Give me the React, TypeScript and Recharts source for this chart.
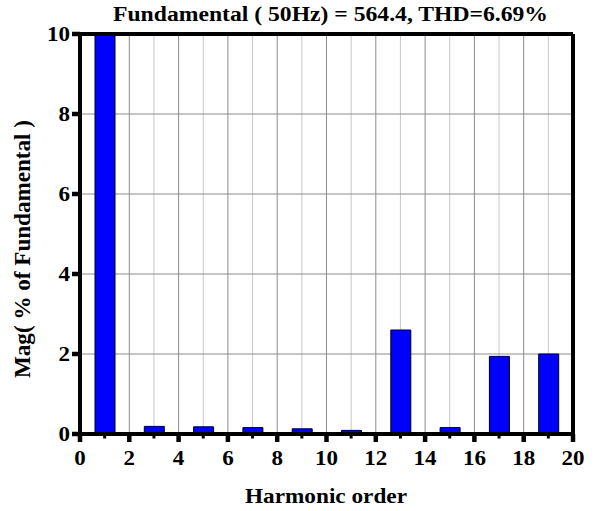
import React from 'react';
import { BarChart, Bar, XAxis, YAxis, CartesianGrid, ReferenceLine } from 'recharts';

const harmonics = [1, 3, 5, 7, 9, 11, 13, 15, 17, 19];
const magnitudes = [10, 0.19, 0.18, 0.16, 0.13, 0.09, 2.6, 0.16, 1.94, 2.0];
const xTicks = [0, 1, 2, 3, 4, 5, 6, 7, 8, 9, 10, 11, 12, 13, 14, 15, 16, 17, 18, 19, 20];
const yTicks = [0, 2, 4, 6, 8, 10];
const oddGrid = [1, 3, 5, 7, 9, 11, 13, 15, 17, 19];
const evenGrid = [2, 4, 6, 8, 10, 12, 14, 16, 18];
const xDomain = [0, 20];
const yDomain = [0, 10];
const title = 'Fundamental ( 50Hz) = 564.4, THD=6.69%';
const xTitle = 'Harmonic order';
const yTitle = 'Mag( % of Fundamental )';

const data = harmonics.map((h, i) => ({ h, mag: magnitudes[i] }));

const FONT = '"Liberation Serif", "Times New Roman", serif';

const gridGen = (values: number[]) => ({ xAxis, offset }: any) => {
  if (xAxis && typeof xAxis.scale === 'function') return values.map((v) => xAxis.scale(v));
  return values.map((v) => offset.left + ((v - xDomain[0]) / (xDomain[1] - xDomain[0])) * offset.width);
};

const XTick = (props: any) => {
  const { x, y, payload } = props;
  const v = payload.value;
  if (v % 2 === 0) {
    const s = String(v);
    return (
      <g>
        <line x1={x} x2={x} y1={y} y2={y + 8} stroke="#000" strokeWidth={4.5} />
        <text
          x={x}
          y={y + 31}
          textAnchor="middle"
          fontFamily={FONT}
          fontWeight="bold"
          fontSize={20}
          fill="#000"
          textLength={s.length * 11.5}
          lengthAdjust="spacingAndGlyphs"
        >
          {s}
        </text>
      </g>
    );
  }
  return <line x1={x} x2={x} y1={y} y2={y + 4.5} stroke="#000" strokeWidth={3} />;
};

const YTick = (props: any) => {
  const { x, y, payload } = props;
  const s = String(payload.value);
  return (
    <text
      x={x}
      y={y + 7}
      textAnchor="end"
      fontFamily={FONT}
      fontWeight="bold"
      fontSize={20}
      fill="#000"
      textLength={s.length * 11.5}
      lengthAdjust="spacingAndGlyphs"
    >
      {s}
    </text>
  );
};

export default function App() {
  return (
    <div style={{ position: 'absolute', left: 0, top: 0, width: 595, height: 511, background: '#fff' }}>
      <BarChart
        width={595}
        height={511}
        data={data}
        margin={{ top: 34, right: 22, bottom: 47, left: 0 }}
      >
        <CartesianGrid
          horizontal={false}
          vertical={true}
          stroke="#c8c8c8"
          strokeWidth={1}
          verticalCoordinatesGenerator={gridGen(oddGrid)}
        />
        <CartesianGrid
          horizontal={true}
          vertical={true}
          stroke="#8c8c8c"
          strokeWidth={1}
          verticalCoordinatesGenerator={gridGen(evenGrid)}
        />
        <XAxis
          dataKey="h"
          type="number"
          domain={xDomain}
          ticks={xTicks}
          interval={0}
          height={30}
          tickSize={0}
          tickMargin={0}
          tickLine={false}
          tick={<XTick />}
          axisLine={{ stroke: '#000', strokeWidth: 4 }}
          allowDataOverflow
        />
        <YAxis
          type="number"
          domain={yDomain}
          ticks={yTicks}
          width={80}
          tickSize={8}
          tickMargin={2}
          tickLine={{ stroke: '#000', strokeWidth: 4.5 }}
          axisLine={{ stroke: '#000', strokeWidth: 4 }}
          tick={<YTick />}
          allowDataOverflow
        />
        <ReferenceLine y={10} stroke="#000" strokeWidth={4} />
        <ReferenceLine x={20} stroke="#000" strokeWidth={4} />
        <Bar dataKey="mag" barSize={20} fill="#0000ff" stroke="#000" strokeWidth={1} isAnimationActive={false} />
      </BarChart>
      <svg width={595} height={511} style={{ position: 'absolute', left: 0, top: 0, pointerEvents: 'none' }}>
        <text
          x={330.5}
          y={21}
          textAnchor="middle"
          fontFamily={FONT}
          fontWeight="bold"
          fontSize={20}
          fill="#000"
          textLength={435}
          lengthAdjust="spacingAndGlyphs"
        >
          {title}
        </text>
        <text
          x={326}
          y={503}
          textAnchor="middle"
          fontFamily={FONT}
          fontWeight="bold"
          fontSize={22}
          fill="#000"
          textLength={162}
          lengthAdjust="spacingAndGlyphs"
        >
          {xTitle}
        </text>
        <text
          x={30}
          y={249}
          textAnchor="middle"
          fontFamily={FONT}
          fontWeight="bold"
          fontSize={23}
          fill="#000"
          textLength={258}
          lengthAdjust="spacingAndGlyphs"
          transform="rotate(-90 30 249)"
        >
          {yTitle}
        </text>
      </svg>
    </div>
  );
}
